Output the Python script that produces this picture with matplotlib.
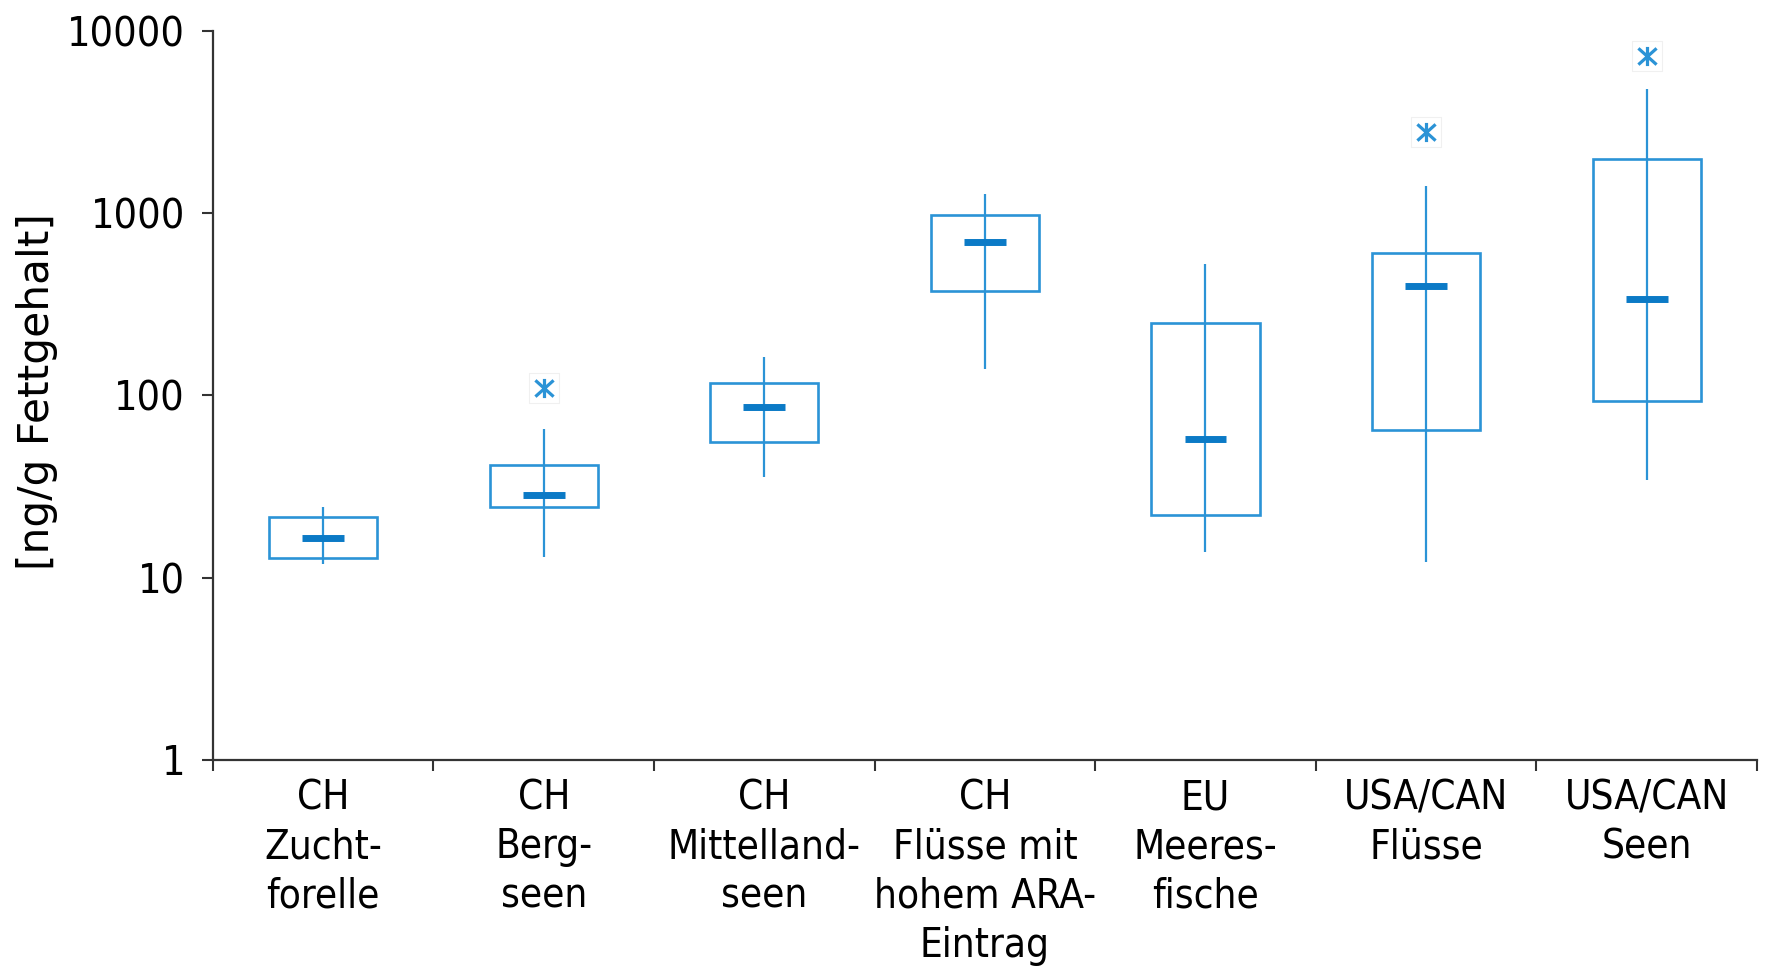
import numpy as np
import matplotlib.pyplot as plt
from matplotlib.path import Path

# Kategorien und Kennwerte der Boxplots [ng/g Fettgehalt]
kategorien = ['CH\nZucht-\nforelle', 'CH\nBerg-\nseen', 'CH\nMittelland-\nseen',
              'CH\nFlüsse mit\nhohem ARA-\nEintrag', 'EU\nMeeres-\nfische',
              'USA/CAN\nFlüsse', 'USA/CAN\nSeen']
minimum = [11.9, 13.0, 35.8, 139, 13.8, 12.1, 34.3]
q1 = [12.8, 24.4, 55.7, 371, 22.1, 64.3, 93.1]
median = [16.4, 28.5, 86.7, 695, 57.4, 399, 336]
q3 = [21.4, 41.3, 117, 979, 249, 603, 1968]
maximum = [24.4, 65.2, 162, 1265, 523, 1399, 4765]
# Ausreisser (Kategorie-Index, Wert)
ausreisser_idx = [1, 5, 6]
ausreisser_wert = [109, 2773, 7207]

blau = '#2b93d6'
blau_dunkel = '#0b7ac6'
grau = '#333333'

plt.rcParams['font.family'] = ['DejaVu Sans']

# Stern-Marker: Kreuz mit senkrechtem Strich
stern = Path([(0, -1), (0, 1), (-0.95, -0.85), (0.95, 0.85), (-0.95, 0.85), (0.95, -0.85)],
             [Path.MOVETO, Path.LINETO] * 3)

fig = plt.figure(figsize=(17.7, 9.66), dpi=100)
ax = fig.add_axes([0.1203, 0.2133, 0.8723, 0.7551])

x = np.arange(len(kategorien)) + 0.5
breite = 0.49

# Whisker durch die ganze Box
ax.vlines(x, minimum, maximum, color=blau, lw=1.6, zorder=2)
# Boxen
ax.bar(x, np.array(q3) - np.array(q1), bottom=q1, width=breite,
       facecolor='none', edgecolor=blau, linewidth=1.9, zorder=3)
# Median
ax.hlines(median, x - 0.095, x + 0.095, color=blau_dunkel, lw=5, zorder=4)
# Ausreisser
xa = x[ausreisser_idx]
ax.scatter(xa, ausreisser_wert, marker='s', s=480, facecolor='white',
           edgecolor='#f0f0f0', linewidth=0.8, zorder=4)
ax.scatter(xa, ausreisser_wert, marker=stern, s=190, color=blau,
           linewidth=2.3, zorder=5)

ax.set_yscale('log')
ax.set_ylim(1, 10000)
ax.set_xlim(0, len(kategorien))
ax.set_yticks([1, 10, 100, 1000, 10000])
ax.set_yticklabels(['1', '10', '100', '1000', '10000'], fontstretch='condensed')
ax.yaxis.set_minor_locator(plt.NullLocator())

ax.set_xticks(np.arange(len(kategorien) + 1))
ax.set_xticklabels([])
ax.set_xticks(x, minor=True)
ax.set_xticklabels(kategorien, minor=True, fontsize=29, linespacing=1.3,
                   va='top', ha='center', fontstretch='condensed')
ax.tick_params(axis='x', which='minor', length=0, pad=13)
ax.tick_params(axis='x', which='major', length=8, width=1.5, color=grau)
ax.tick_params(axis='y', which='major', length=8, width=1.5, color=grau,
               labelsize=29.5, pad=12)

for s in ['top', 'right']:
    ax.spines[s].set_visible(False)
for s in ['left', 'bottom']:
    ax.spines[s].set_color(grau)
    ax.spines[s].set_linewidth(1.6)

ax.set_ylabel('[ng/g Fettgehalt]', fontsize=30.5)
ax.yaxis.set_label_coords(-0.1004, 0.505)

fig.savefig('out.png', dpi=100)
